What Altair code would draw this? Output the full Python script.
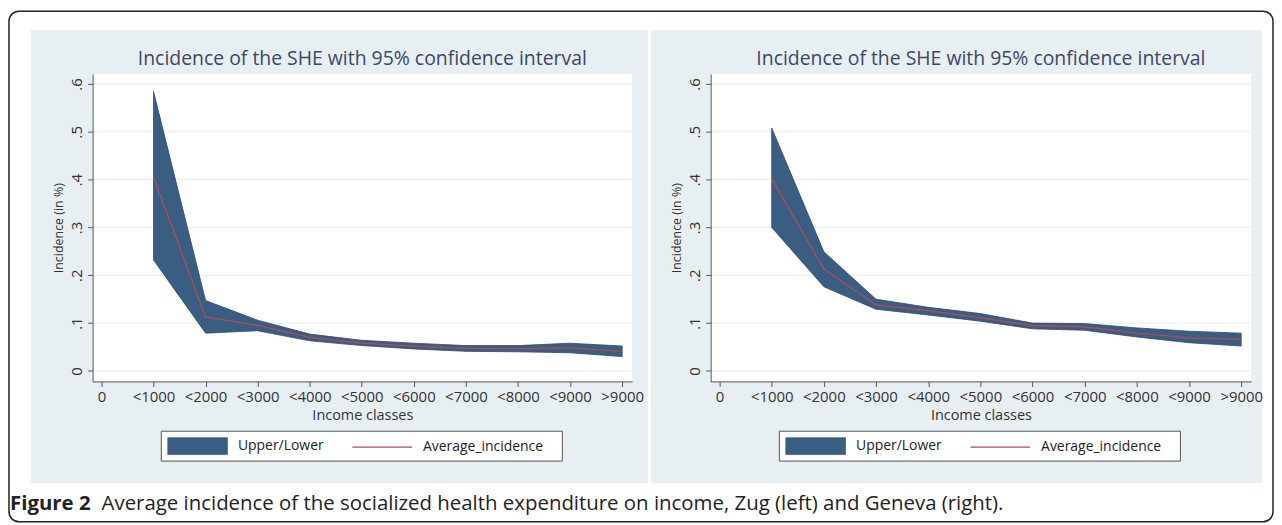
import altair as alt
import pandas as pd

# ---------------- data ----------------
categories = ["<1000", "<2000", "<3000", "<4000", "<5000",
              "<6000", "<7000", "<8000", "<9000", ">9000"]
axis_labels = ["0"] + categories
y_ticks = [0, 0.1, 0.2, 0.3, 0.4, 0.5, 0.6]

# Zug (left)
zug_upper = [0.584, 0.147, 0.106, 0.077, 0.064, 0.058, 0.053, 0.053, 0.058, 0.052]
zug_lower = [0.232, 0.079, 0.084, 0.063, 0.053, 0.046, 0.041, 0.040, 0.038, 0.030]
zug_avg = [0.405, 0.113, 0.095, 0.070, 0.058, 0.052, 0.047, 0.046, 0.048, 0.041]

# Geneva (right)
gva_upper = [0.508, 0.249, 0.150, 0.133, 0.120, 0.100, 0.099, 0.090, 0.083, 0.079]
gva_lower = [0.300, 0.176, 0.129, 0.117, 0.104, 0.088, 0.085, 0.071, 0.059, 0.052]
gva_avg = [0.402, 0.213, 0.138, 0.126, 0.111, 0.095, 0.092, 0.079, 0.069, 0.066]

title_text = "Incidence of the SHE with 95% confidence interval"
x_title = "Income classes"
y_title = "Incidence (in %)"
band_label = "Upper/Lower"
line_label = "Average_incidence"
caption_bold = "Figure 2"
caption_rest = ("Average incidence of the socialized health expenditure on income, "
                "Zug (left) and Geneva (right).")

# ---------------- style ----------------
FONT = "Open Sans"
PANEL_BG = "#e8eff2"
GRID = "#e6edf1"
BAND = "#3a5d82"
BAND_EDGE = "#2c4a6b"
RED = "#b04c56"
AXIS_C = "#555555"
TEXT_C = "#333333"
TITLE_C = "#3c4866"
PLOT_H = 309
RECT_PATH = "M-1,-0.283L1,-0.283L1,0.283L-1,0.283Z"

one = pd.DataFrame({"k": [0]})
label_expr = "[" + ",".join("'" + s + "'" for s in axis_labels) + "][datum.value]"


def panel(upper, lower, avg, width, bg_left, bg_right):
    df = pd.DataFrame({
        "pos": list(range(1, len(categories) + 1)),
        "cls": categories,
        "upper": upper,
        "lower": lower,
        "avg": avg,
        "band": band_label,
        "series": line_label,
    })
    grid_df = pd.DataFrame({"v": y_ticks})
    xsc = alt.Scale(domain=[-0.17, 10.19], nice=False, zero=False)
    ysc = alt.Scale(domain=[-0.022, 0.621], nice=False, zero=False)
    xaxis = alt.Axis(title=x_title, values=list(range(len(axis_labels))),
                     labelExpr=label_expr, labelAngle=0, labelOverlap=False,
                     grid=False, tickSize=5, labelPadding=3, titlePadding=4,
                     zindex=1, labelFontSize=15, titleFontSize=14.5)
    yaxis = alt.Axis(title=y_title, values=y_ticks, grid=False, tickSize=5,
                     labelAngle=270, labelAlign="center", labelBaseline="bottom",
                     labelPadding=3, titlePadding=4, zindex=1,
                     labelExpr="datum.value == 0 ? '0' : replace(format(datum.value, '.1f'), '0.', '.')",
                     labelFontSize=15, titleFontSize=12.5)

    bg = alt.Chart(one).mark_rect(color=PANEL_BG).encode(
        x=alt.value(bg_left), x2=alt.value(bg_right),
        y=alt.value(-44), y2=alt.value(411))
    title = alt.Chart(one).mark_text(
        text=title_text, font=FONT, fontSize=19.5, color=TITLE_C,
        align="center", baseline="middle").encode(
        x=alt.value(width / 2), y=alt.value(-15))
    white = alt.Chart(one).mark_rect(color="white").encode(
        x=alt.value(0), x2=alt.value(width),
        y=alt.value(0), y2=alt.value(PLOT_H))
    legend_box = alt.Chart(one).mark_rect(fill="white", stroke=AXIS_C, strokeWidth=1).encode(
        x=alt.value(69), x2=alt.value(472),
        y=alt.value(359), y2=alt.value(389))
    grid = alt.Chart(grid_df).mark_rule(color=GRID, strokeWidth=1).encode(
        y=alt.Y("v:Q", scale=ysc, axis=yaxis))
    area = alt.Chart(df).mark_area(stroke=BAND_EDGE, strokeWidth=0.8, opacity=1).encode(
        x=alt.X("pos:Q", scale=xsc, axis=xaxis),
        y=alt.Y("lower:Q", scale=ysc, axis=yaxis),
        y2="upper:Q",
        fill=alt.Fill("band:N", scale=alt.Scale(domain=[band_label], range=[BAND]),
                      legend=alt.Legend(title=None, orient="none", legendX=75, legendY=343.5,
                                        direction="horizontal", symbolType=RECT_PATH,
                                        symbolSize=3600, symbolStrokeColor=BAND_EDGE,
                                        symbolStrokeWidth=0.6, labelFontSize=14,
                                        labelFont=FONT, labelColor="#222222",
                                        labelOffset=10, padding=0)))
    line = alt.Chart(df).mark_line(strokeWidth=1.3).encode(
        x=alt.X("pos:Q", scale=xsc, axis=xaxis),
        y=alt.Y("avg:Q", scale=ysc, axis=yaxis),
        order=alt.Order("pos:Q"),
        stroke=alt.Stroke("series:N", scale=alt.Scale(domain=[line_label], range=[RED]),
                          legend=alt.Legend(title=None, orient="none", legendX=260, legendY=344,
                                            direction="horizontal", symbolType="stroke",
                                            symbolSize=3600, symbolStrokeWidth=1.4,
                                            labelFontSize=14, labelFont=FONT,
                                            labelColor="#222222", labelOffset=10,
                                            padding=0)))
    return alt.layer(bg, title, white, legend_box, grid, area, line).properties(
        width=width, height=PLOT_H)


left = panel(zug_upper, zug_lower, zug_avg, 542, -62, 558)
right = panel(gva_upper, gva_lower, gva_avg, 543, -60, 554)

cap_bold = alt.Chart(one).mark_text(
    text=caption_bold, font=FONT, fontSize=20.5, fontWeight="bold",
    align="left", baseline="middle", color="#222222").encode(
    x=alt.value(-83), y=alt.value(13))
cap_rest = alt.Chart(one).mark_text(
    text=caption_rest, font=FONT, fontSize=20.5, fontWeight="normal",
    align="left", baseline="middle", color="#222222").encode(
    x=alt.value(9), y=alt.value(13))
border = alt.Chart(one).mark_rect(
    fillOpacity=0, stroke="#222222", strokeWidth=1.5, cornerRadius=10).encode(
    x=alt.value(-84), x2=alt.value(1186), y=alt.value(-482), y2=alt.value(31))
caption = alt.layer(border, cap_bold, cap_rest).properties(width=542, height=20)

chart = alt.concat(
    left, right, caption, columns=2,
    spacing=alt.RowColnumber(row=110, column=79),
    bounds="flush",
    padding={"left": 0, "top": 1, "right": 0, "bottom": 0},
).resolve_scale(
    fill="independent", stroke="independent"
).resolve_legend(
    fill="independent", stroke="independent"
).configure(
    background="white", font=FONT
).configure_view(
    strokeWidth=0
).configure_axis(
    labelFont=FONT, titleFont=FONT, labelColor=TEXT_C, titleColor=TEXT_C,
    domainColor=AXIS_C, tickColor=AXIS_C, titleFontWeight="normal"
)

chart.save("out.html", embed_options={"renderer": "svg", "actions": False})
